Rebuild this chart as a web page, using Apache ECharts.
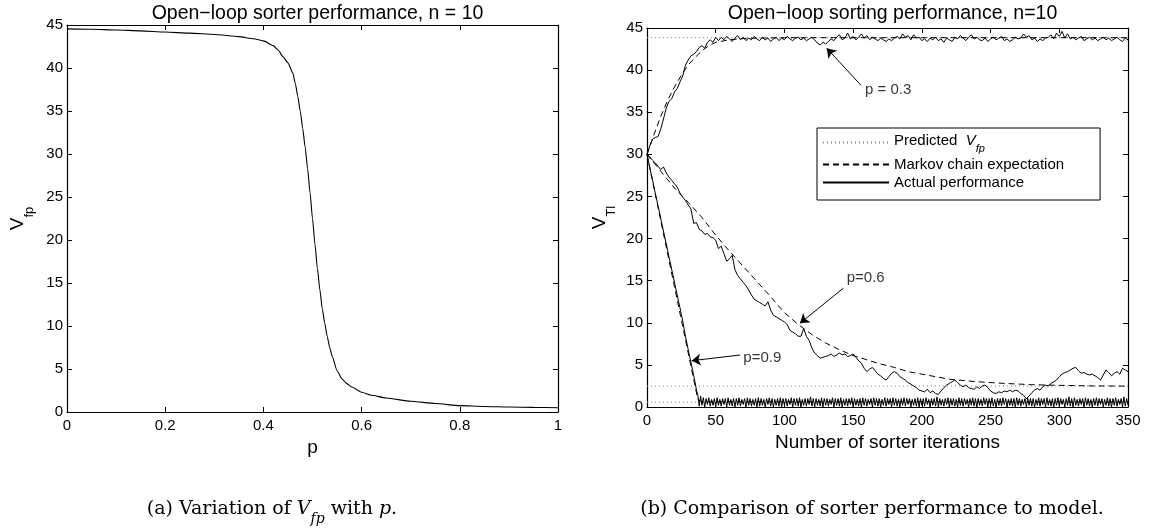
<!DOCTYPE html>
<html><head><meta charset="utf-8">
<script src="https://cdn.jsdelivr.net/npm/echarts@6/dist/echarts.min.js"></script>
<style>html,body{margin:0;padding:0;background:#fff}#c{width:1149px;height:529px}</style>
</head><body><div id="c"></div>
<script>
// ---------- Data: (a) V_fp as a function of p ----------
const pValues = [0,0.05,0.1,0.15,0.2,0.25,0.3,0.35,0.38,0.4,0.42,0.43,0.44,0.45,0.46,0.465,0.47,0.475,0.48,0.485,0.49,0.495,0.5,0.505,0.51,0.515,0.52,0.525,0.53,0.535,0.54,0.55,0.56,0.57,0.58,0.6,0.62,0.65,0.7,0.75,0.8,0.85,0.9,0.95,1.0];
const vfpValues = [44.55,44.5,44.42,44.32,44.18,44.05,43.9,43.65,43.4,43.15,42.6,42.1,41.3,40.6,39.4,38.2,36.7,35.0,33.0,30.8,28.3,25.5,22.5,19.5,16.7,14.2,12.0,10.3,8.8,7.5,6.5,4.8,3.85,3.3,2.9,2.3,1.95,1.62,1.25,0.98,0.74,0.64,0.58,0.54,0.5];

// ---------- Data: (b) sorter performance ----------
const iterRange = [0, 350];
const predictedVfp = [43.85, 2.49, 0.56];           // p = 0.3, 0.6, 0.9

const markovIterP03 = [0,5,10,15,20,25,30,35,40,45,50,60,70,80,100,350];
const markovValP03  = [30,32.3,34.5,36.4,38.0,39.4,40.6,41.5,42.3,42.9,43.3,43.6,43.75,43.8,43.85,43.85];
const markovIterP06 = [0,10,20,30,40,50,60,70,80,90,100,110,120,130,140,150,160,170,180,190,200,220,240,260,280,300,325,350];
const markovValP06  = [30,28.0,26.0,24.3,22.5,20.4,18.5,16.7,14.9,13.1,11.2,9.8,8.6,7.6,6.8,6.1,5.6,5.1,4.7,4.2,3.9,3.3,3.0,2.8,2.65,2.57,2.5,2.48];
const markovIterP09 = [0,37,40,350];
const markovValP09  = [30,0.9,0.62,0.6];

// actual performance, p = 0.3 and p = 0.6: one value every 2 iterations (0,2,...,350)
const actualStepP03 = 2;
const actualP03 = [30.0,31.0,31.8,32.0,32.1,33.0,34.2,35.5,36.3,36.6,37.4,37.8,38.6,39.3,40.6,41.2,41.7,41.9,42.2,42.7,42.9,42.6,43.3,43.6,43.3,43.9,
43.5,43.9,43.6,44.0,43.7,43.4,43.8,44.1,43.6,43.9,
43.5,43.8,43.6,44.0,43.7,43.5,43.9,43.6,43.8,43.4,
43.7,43.9,43.5,43.8,43.6,44.0,43.7,43.5,43.8,43.9,
43.6,43.8,43.5,43.7,43.9,43.6,43.2,43.0,43.3,43.1,
43.4,43.7,43.5,43.9,44.2,43.6,43.8,44.4,43.7,44.0,
43.6,43.9,44.3,43.8,44.1,43.6,43.9,43.7,43.5,43.8,
43.6,43.4,43.7,43.5,43.8,44.0,43.7,44.3,43.9,44.1,
43.6,44.2,43.8,43.9,43.5,43.7,43.4,43.8,43.6,43.9,
43.5,43.7,43.3,43.8,43.6,43.4,43.9,43.7,44.1,43.8,
43.5,43.9,44.2,43.7,43.9,43.6,43.5,43.8,43.4,43.7,
43.9,43.6,43.8,44.0,43.5,43.7,43.4,43.6,43.9,43.7,
43.8,44.3,43.9,44.1,43.6,43.8,43.4,43.7,43.5,43.8,
43.9,44.2,43.7,44.4,44.0,44.6,43.8,44.3,43.7,43.9,
43.6,43.8,44.0,43.5,43.7,43.9,43.6,43.8,43.5,43.7,
43.9,43.6,43.8,43.5,43.7,43.9,43.6,43.4,43.8,43.6];
const actualStepP06 = 2;
const actualP06 = [30.0,29.7,29.3,29.0,28.6,28.2,28.5,27.8,27.3,26.9,
26.5,26.1,25.4,24.9,24.5,24.0,23.5,21.8,21.9,21.1,
20.9,20.5,20.6,20.2,20.1,19.8,18.8,19.1,18.2,17.3,
17.6,18.0,16.3,15.6,15.2,14.8,14.4,13.9,13.3,12.8,
12.6,12.4,12.2,12.0,12.5,11.5,10.9,10.7,10.5,10.3,
10.1,9.8,9.1,8.9,8.7,8.4,8.4,9.3,8.4,7.9,
7.0,6.4,6.1,5.8,5.9,6.0,6.1,6.3,6.0,6.2,
6.4,6.2,6.3,6.0,6.1,6.3,5.9,5.5,5.2,4.6,
4.2,4.5,4.7,4.3,3.9,3.7,3.4,3.2,3.6,4.0,
4.2,4.0,3.6,3.4,3.2,2.9,2.7,2.5,2.3,2.0,
1.9,1.8,2.1,1.7,1.9,1.6,1.5,1.9,2.3,2.6,
2.8,3.0,3.2,2.9,2.6,2.4,2.6,2.3,2.2,2.1,
2.4,2.2,2.5,2.6,2.3,1.9,1.7,1.6,1.8,1.7,
1.9,1.8,2.0,1.8,2.0,1.9,1.6,1.4,1.0,1.3,
1.7,2.0,2.2,2.0,2.4,2.6,2.5,2.8,3.0,3.2,
3.6,3.9,4.1,4.2,4.4,4.6,4.7,4.3,4.0,4.1,
3.9,3.8,3.9,3.7,3.5,3.2,3.8,4.4,4.1,3.7,
4.0,4.2,3.9,4.6,4.4,4.2];
// actual performance, p = 0.9: one value every iteration (0..350)
const actualStepP09 = 1;
const actualP09Descent = [30.0,29.2,28.5,27.7,27.0,26.2,25.4,24.7,23.9,23.2,22.4,21.6,20.9,20.1,19.4,18.6,17.8,17.1,16.3,15.6,14.8,14.0,13.3,12.5,11.8,11.0,10.2,9.3,8.4,7.6,6.8,6.0,5.3,4.5,3.7,2.9,2.0,1.4];
const actualP09Settled = [
0.1,1.3,0.2,1.1,0.0,1.0,0.3,1.1,0.1,0.9,0.2,1.0,0.0,1.1,0.2,0.9,0.1,1.0,0.3,1.0,
0.0,1.1,0.2,0.9,0.1,1.0,0.0,1.0,0.2,1.1,0.1,0.9,0.3,1.0,0.0,1.1,0.2,1.0,0.1,0.9,
0.2,1.0,0.0,1.1,0.1,1.0,0.2,0.9,0.0,1.0,0.3,1.1,0.1,1.0,0.0,0.9,0.2,1.0,0.1,1.1,
0.0,1.0,0.2,1.0,0.1,0.9,0.3,1.1,0.0,1.0,0.2,1.0,0.1,1.1,0.0,0.9,0.2,1.0,0.1,1.0,
0.3,1.2,0.1,1.0,0.0,1.0,0.2,0.9,0.1,1.1,0.0,1.0,0.2,1.0,0.1,0.9,0.3,1.1,0.0,1.0,
0.2,1.0,0.1,1.1,0.0,0.9,0.2,1.0,0.1,1.0,0.3,1.1,0.0,1.0,0.2,0.9,0.1,1.0,0.0,1.1,
0.2,1.0,0.1,0.9,0.3,1.0,0.0,1.1,0.2,1.0,0.1,1.0,0.0,0.9,0.2,1.1,0.1,1.0,0.3,1.0,
0.0,1.1,0.2,1.0,0.1,0.9,0.0,1.0,0.2,1.1,0.1,1.0,0.3,1.0,0.0,0.9,0.2,1.0,0.1,1.1,
0.0,1.0,0.2,1.0,0.1,1.1,0.3,0.9,0.0,1.0,0.2,1.0,0.1,1.2,0.0,1.0,0.2,0.9,0.1,1.0,
0.3,1.1,0.0,1.0,0.2,1.0,0.1,0.9,0.0,1.1,0.2,1.0,0.1,1.0,0.3,0.9,0.0,1.0,0.2,1.1,
0.1,1.0,0.0,1.0,0.2,0.9,0.1,1.1,0.3,1.0,0.0,1.0,0.2,1.1,0.1,0.9,0.0,1.0,0.2,1.0,
0.1,1.1,0.3,1.0,0.0,0.9,0.2,1.0,0.1,1.0,0.0,1.1,0.2,1.0,0.1,0.9,0.3,1.0,0.0,1.1,
0.2,1.0,0.1,1.0,0.0,0.9,0.2,1.1,0.1,1.0,0.3,1.0,0.0,1.1,0.2,0.9,0.1,1.0,0.0,1.0,
0.2,1.1,0.1,1.0,0.3,0.9,0.0,1.0,0.2,1.2,0.1,1.0,0.0,1.1,0.2,0.9,0.1,1.0,0.3,1.0,
0.0,1.1,0.2,1.0,0.1,0.9,0.0,1.0,0.2,1.1,0.1,1.0,0.3,1.0,0.0,0.9,0.2,1.1,0.1,1.0,
0.0,1.0,0.2,1.1,0.1,0.9,0.3,1.0,0.0,1.2,0.1,1.0,0.2];

// annotation texts
const annotationTexts = ['p = 0.3', 'p=0.6', 'p=0.9'];

// ---------- Build ----------
const FONT = "'Liberation Sans', Arial, Helvetica, sans-serif";
const SERIF = "'DejaVu Serif', 'Liberation Serif', serif";
const BLACK = '#000';
const TICK = 15;

const annotationLayout = [
  {text: [158.6, 37.6], tail: [155.7, 38.2], tip: [130.8, 42.6]},
  {text: [145.3, 15.3], tail: [142.8, 14.1], tip: [111.3, 9.94]},
  {text: [70.1, 5.8],   tail: [67.7, 6.17],  tip: [32.5, 5.5]}
];

function pairs(xs, ys) { return xs.map((x, i) => [x, ys[i]]); }
function stepped(vals, step) { return vals.map((v, i) => [i * step, v]); }

const actualP09 = actualP09Descent.concat(actualP09Settled);

const sub = {
  v: {fontFamily: FONT, fontSize: 19, color: BLACK, lineHeight: 28, verticalAlign: 'top'},
  s: {fontFamily: FONT, fontSize: 13, color: BLACK, lineHeight: 28, verticalAlign: 'bottom'}
};

function valueAxis(o) {
  return Object.assign({
    type: 'value',
    axisLine: {show: true, onZero: false, lineStyle: {color: BLACK, width: 1.2}},
    axisTick: {show: true, inside: true, length: 5, lineStyle: {color: BLACK, width: 1}},
    axisLabel: {show: true, color: BLACK, fontFamily: FONT, fontSize: TICK},
    splitLine: {show: false}
  }, o);
}

const series = [];
// (a)
series.push({
  type: 'line', xAxisIndex: 0, yAxisIndex: 0, data: pairs(pValues, vfpValues),
  symbol: 'none', smooth: 0.2, smoothMonotone: 'x',
  lineStyle: {color: BLACK, width: 1.1}, silent: true
});
// (b) predicted
predictedVfp.forEach(v => series.push({
  name: 'Predicted Vfp', type: 'line', xAxisIndex: 2, yAxisIndex: 2,
  data: [[iterRange[0], v], [iterRange[1], v]], symbol: 'none',
  lineStyle: {color: '#888', width: 1, type: [1, 3]}, itemStyle: {color: '#888'}, silent: true
}));
// (b) markov
[[markovIterP03, markovValP03], [markovIterP06, markovValP06], [markovIterP09, markovValP09]].forEach(([xs, ys]) => series.push({
  name: 'Markov chain expectation', type: 'line', xAxisIndex: 2, yAxisIndex: 2,
  data: pairs(xs, ys), symbol: 'none',
  lineStyle: {color: BLACK, width: 1, type: [6, 4]}, itemStyle: {color: BLACK}, silent: true
}));
// (b) actual
[[actualP03, actualStepP03], [actualP06, actualStepP06], [actualP09, actualStepP09]].forEach(([vals, st]) => series.push({
  name: 'Actual performance', type: 'line', xAxisIndex: 2, yAxisIndex: 2,
  data: stepped(vals, st), symbol: 'none',
  lineStyle: {color: BLACK, width: 1}, itemStyle: {color: BLACK}, silent: true
}));
// annotations
series.push({
  name: 'annotations', type: 'scatter', xAxisIndex: 2, yAxisIndex: 2, symbolSize: 0, silent: true,
  data: annotationLayout.map((a, i) => ({value: a.text, label: {formatter: annotationTexts[i]}})),
  label: {show: true, position: 'right', distance: 0, color: BLACK, fontFamily: FONT, fontSize: 15},
  markLine: {
    silent: true, symbol: ['none', 'arrow'], symbolSize: 9, animation: false,
    lineStyle: {color: BLACK, width: 1, type: 'solid'}, label: {show: false},
    emphasis: {disabled: true},
    data: annotationLayout.map(a => [{coord: a.tail}, {coord: a.tip}])
  }
});

const option = {
  animation: false,
  backgroundColor: '#fff',
  title: [
    {text: 'Open\u2212loop sorter performance, n = 10', left: 312.5, top: -1, textAlign: 'center',
     textStyle: {fontFamily: FONT, fontSize: 19.5, fontWeight: 'normal', color: BLACK}},
    {text: 'Open\u2212loop sorting performance, n=10', left: 887.5, top: -1, textAlign: 'center',
     textStyle: {fontFamily: FONT, fontSize: 19.5, fontWeight: 'normal', color: BLACK}}
  ],
  grid: [
    {left: 67, top: 25, width: 491, height: 387},
    {left: 647, top: 28, width: 481, height: 379}
  ],
  xAxis: [
    valueAxis({gridIndex: 0, min: 0, max: 1, interval: 0.2, position: 'bottom',
      axisLabel: {color: BLACK, fontFamily: FONT, fontSize: TICK, margin: 6, formatter: v => String(+v.toFixed(1))},
      name: 'p', nameLocation: 'middle', nameGap: 20,
      nameTextStyle: {fontFamily: FONT, fontSize: 19, color: BLACK}}),
    valueAxis({gridIndex: 0, min: 0, max: 1, interval: 0.2, position: 'top', axisLabel: {show: false}}),
    valueAxis({gridIndex: 1, min: 0, max: 350, interval: 50, position: 'bottom',
      axisLabel: {color: BLACK, fontFamily: FONT, fontSize: TICK, margin: 6},
      name: 'Number of sorter iterations', nameLocation: 'middle', nameGap: 25,
      nameTextStyle: {fontFamily: FONT, fontSize: 19, color: BLACK}}),
    valueAxis({gridIndex: 1, min: 0, max: 350, interval: 50, position: 'top', axisLabel: {show: false}})
  ],
  yAxis: [
    valueAxis({gridIndex: 0, min: 0, max: 45, interval: 5, position: 'left',
      axisLabel: {color: BLACK, fontFamily: FONT, fontSize: TICK, margin: 4},
      name: '{v|V}{s|fp}', nameLocation: 'middle', nameRotate: 90, nameGap: 31,
      nameTextStyle: {rich: sub}}),
    valueAxis({gridIndex: 0, min: 0, max: 45, interval: 5, position: 'right', axisLabel: {show: false}}),
    valueAxis({gridIndex: 1, min: 0, max: 45, interval: 5, position: 'left',
      axisLabel: {color: BLACK, fontFamily: FONT, fontSize: TICK, margin: 4},
      name: '{v|V}{s|Tl}', nameLocation: 'middle', nameRotate: 90, nameGap: 29,
      nameTextStyle: {rich: sub}}),
    valueAxis({gridIndex: 1, min: 0, max: 45, interval: 5, position: 'right', axisLabel: {show: false}})
  ],
  legend: {
    data: ['Predicted Vfp', 'Markov chain expectation', 'Actual performance'],
    orient: 'vertical', left: 817, top: 128,
    backgroundColor: '#fff', borderColor: BLACK, borderWidth: 1, borderRadius: 0,
    padding: [3, 36, 10, 5], itemWidth: 66, itemHeight: 15, itemGap: 3,
    selectedMode: false,
    itemStyle: {opacity: 0},
    textStyle: {fontFamily: FONT, fontSize: 15, color: BLACK,
      rich: {
        n: {fontFamily: FONT, fontSize: 15, color: BLACK, lineHeight: 23, verticalAlign: 'top', padding: [2, 0, 0, 0]},
        vi: {fontFamily: FONT, fontSize: 15, fontStyle: 'italic', color: BLACK, lineHeight: 23, verticalAlign: 'top', padding: [2, 0, 0, 0]},
        si: {fontFamily: FONT, fontSize: 11, fontStyle: 'italic', color: BLACK, lineHeight: 23, verticalAlign: 'bottom'}
      }},
    formatter: name => name === 'Predicted Vfp' ? '{n|Predicted  }{vi|V}{si|fp}' : name
  },
  graphic: [
    {type: 'text', x: 272, y: 513, silent: true,
     style: {text: '{t|(a) Variation of }{i|V}{si|fp}{t| with }{i|p}{t|.}', align: 'center', verticalAlign: 'middle',
       rich: {
         t: {fontFamily: SERIF, fontSize: 19, color: BLACK, lineHeight: 27, verticalAlign: 'top'},
         i: {fontFamily: SERIF, fontSize: 19, fontStyle: 'italic', color: BLACK, lineHeight: 27, verticalAlign: 'top'},
         si: {fontFamily: SERIF, fontSize: 14, fontStyle: 'italic', color: BLACK, lineHeight: 27, verticalAlign: 'bottom'}
       }}},
    {type: 'text', x: 872, y: 509, silent: true,
     style: {text: '(b) Comparison of sorter performance to model.', align: 'center', verticalAlign: 'middle',
       font: "19px 'DejaVu Serif', 'Liberation Serif', serif", fill: BLACK}}
  ],
  series: series
};

const chart = echarts.init(document.getElementById('c'), null, {renderer: 'canvas'});
chart.setOption(option);
</script>
</body></html>
